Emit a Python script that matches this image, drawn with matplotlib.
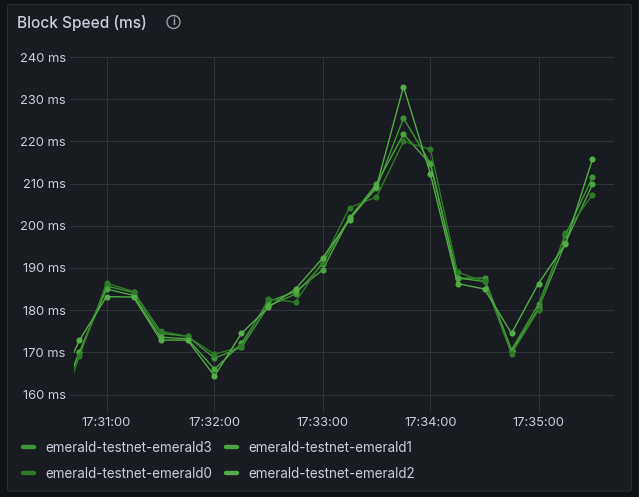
import pandas as pd
import matplotlib.dates as mdates
from matplotlib import pyplot as plt
from matplotlib.lines import Line2D
from matplotlib.patches import Ellipse, FancyBboxPatch

plt.rcParams['font.family'] = ['Inter', 'DejaVu Sans']

times = ['17:30:30', '17:30:45', '17:31:00', '17:31:15', '17:31:30', '17:31:45', '17:32:00',
         '17:32:15', '17:32:30', '17:32:45', '17:33:00', '17:33:15', '17:33:30', '17:33:45',
         '17:34:00', '17:34:15', '17:34:30', '17:34:45', '17:35:00', '17:35:15', '17:35:30']

emerald3 = [153, 170.0, 185.7, 184.2, 174.5, 173.8, 168.6, 171.2, 181.0, 183.8, 190.9,
            202.0, 208.9, 225.5, 214.8, 187.6, 187.6, 170.6, 181.4, 197.8, 211.5]
emerald1 = [155, 170.0, 185.0, 183.5, 173.6, 173.2, 166.0, 172.1, 182.0, 184.4, 189.5,
            201.8, 209.9, 221.7, 214.6, 187.6, 186.8, 170.2, 180.4, 196.0, 209.8]
emerald0 = [151, 169.1, 186.4, 184.4, 175.0, 173.8, 169.5, 171.4, 182.6, 181.9, 191.5,
            204.3, 206.8, 220.0, 218.1, 189.0, 186.8, 169.6, 180.0, 198.4, 207.4]
emerald2 = [159, 172.9, 183.2, 183.1, 172.9, 172.9, 164.4, 174.5, 180.7, 185.0, 192.3,
            201.4, 209.3, 233.0, 212.2, 186.3, 185.0, 174.5, 186.3, 195.7, 215.8]

yticks = [160, 170, 180, 190, 200, 210, 220, 230, 240]
xtick_times = ['17:31:00', '17:32:00', '17:33:00', '17:34:00', '17:35:00']

series = [('emerald-testnet-emerald3', emerald3, '#3d9635'),
          ('emerald-testnet-emerald1', emerald1, '#4aa53f'),
          ('emerald-testnet-emerald0', emerald0, '#2f7a28'),
          ('emerald-testnet-emerald2', emerald2, '#52ae47')]

W, H = 639, 497
TEXT = '#ccccdc'
GRID = '#303338'


def to_dt(values):
    return pd.to_datetime(['2024-01-01 ' + v for v in values])


def fx(x):
    return x / W


def fy(y):
    return 1 - y / H


fig = plt.figure(figsize=(W / 100, H / 100), dpi=100, facecolor='#111217')

# panel goes behind the axes
fig.add_artist(FancyBboxPatch((fx(7.5), fy(491)), (631.5 - 7.5) / W, (491 - 4.5) / H,
                              boxstyle='round,pad=0,rounding_size=0.004',
                              transform=fig.transFigure, facecolor='#181b1f',
                              edgecolor='#2a2d32', linewidth=0.8, zorder=-1))

ax_left, ax_right, ax_top, ax_bottom = 74, 614, 57, 404
ax = fig.add_axes([fx(ax_left), fy(ax_bottom), (ax_right - ax_left) / W, (ax_bottom - ax_top) / H])
ax.set_facecolor('none')

x = to_dt(times)
for name, vals, color in series:
    ax.plot(x, vals, color=color, lw=1.0, marker='o', ms=4.4, mew=0, zorder=3)

# 240 sits at y=57, 160 at y=394.5
per_px = 80 / (394.5 - 57)
ax.set_ylim(240 - (ax_bottom - ax_top) * per_px, 240)
left_t = mdates.date2num(to_dt(['17:31:00'])[0])
sec_per_px = 60 / 108 / 86400
ax.set_xlim(left_t - (106.5 - ax_left) * sec_per_px, left_t + (ax_right - 106.5) * sec_per_px)

ax.set_yticks(yticks)
ax.set_yticklabels([f'{v} ms' for v in yticks])
ax.set_xticks(to_dt(xtick_times))
ax.set_xticklabels(xtick_times)
ax.grid(True, color=GRID, lw=0.72, zorder=0)
ax.set_axisbelow(True)
for s in ax.spines.values():
    s.set_visible(False)
ax.tick_params(axis='y', length=3, width=0.72, color=GRID, labelcolor=TEXT, labelsize=9.3, pad=3)
ax.tick_params(axis='x', length=6, width=0.72, color=GRID, labelcolor=TEXT, labelsize=9.3, pad=3)

# title and info icon
fig.text(fx(17), fy(23), 'Block Speed (ms)', color=TEXT, fontsize=11.1, fontweight='medium', va='center')
fig.add_artist(Ellipse((fx(173.5), fy(22)), 13 / W, 13 / H, transform=fig.transFigure, fill=False,
                       edgecolor='#9a9ba6', lw=1.0))
fig.text(fx(173.5), fy(22), 'i', color='#9a9ba6', fontsize=7.5, fontweight='bold', ha='center', va='center')

# legend
legend_pos = [(21, 45, 447), (224.5, 248, 447), (21, 45, 472.5), (224.5, 248, 472.5)]
for (name, vals, color), (sx, tx, ly) in zip(series, legend_pos):
    fig.add_artist(Line2D([fx(sx + 1.5), fx(sx + 12.5)], [fy(ly), fy(ly)], transform=fig.transFigure,
                          color=color, lw=3.2, solid_capstyle='round'))
    fig.text(fx(tx), fy(ly + 1), name, color=TEXT, fontsize=9.7, va='center')

fig.savefig('out.png', dpi=100, facecolor=fig.get_facecolor())
